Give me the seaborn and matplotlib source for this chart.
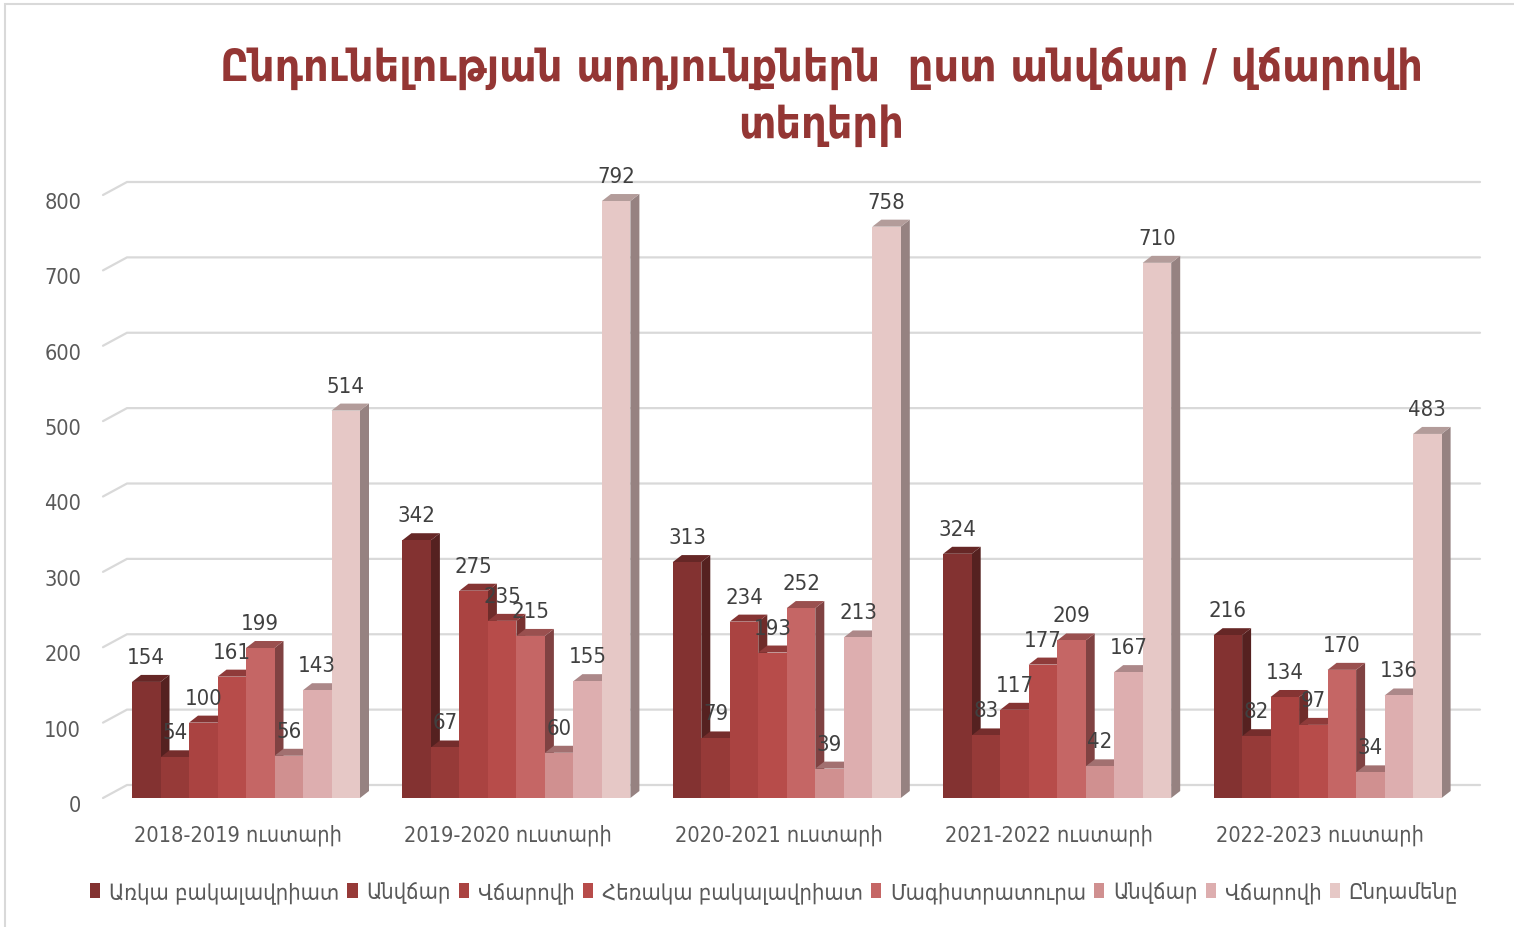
"""Admission results by free / paid places, 3D-look grouped bars."""

import matplotlib
matplotlib.use("Agg")
import matplotlib.pyplot as plt
import pandas as pd
import seaborn as sns
from matplotlib.colors import to_rgb
from matplotlib.patches import Patch, Polygon, Rectangle
from matplotlib.transforms import ScaledTranslation

years = [
    "2018-2019 ուստարի",
    "2019-2020 ուստարի",
    "2020-2021 ուստարի",
    "2021-2022 ուստարի",
    "2022-2023 ուստարի",
]
series_names = [
    "Առկա բակալավրիատ",
    "Անվճար",
    "Վճարովի",
    "Հեռակա բակալավրիատ",
    "Մագիստրատուրա",
    "Անվճար",
    "Վճարովի",
    "Ընդամենը",
]
full_time = [154, 342, 313, 324, 216]
full_time_free = [54, 67, 79, 83, 82]
full_time_paid = [100, 275, 234, 117, 134]
distance = [161, 235, 193, 177, 97]
masters = [199, 215, 252, 209, 170]
masters_free = [56, 60, 39, 42, 34]
masters_paid = [143, 155, 213, 167, 136]
total = [514, 792, 758, 710, 483]
all_series = [
    full_time, full_time_free, full_time_paid, distance,
    masters, masters_free, masters_paid, total,
]
colors = [
    "#833231", "#963A38", "#AA4341", "#B74C4A",
    "#C56665", "#D09090", "#DDAEAF", "#E6C8C6",
]
y_ticks = [0, 100, 200, 300, 400, 500, 600, 700, 800]
title = "Ընդունելության արդյունքներն  ըստ անվճար / վճարովի\nտեղերի"

W, H = 1514, 928
AX_LEFT, AX_WIDTH = 110.8, 1352
AX_BOTTOM, AX_HEIGHT = 799, 603
DEPTH_X, DEPTH_Y = 9, 7     # bar depth in pixels
WALL_X, WALL_Y = 24, 13     # back wall offset in pixels
TEXT_COLOR = "#595959"
GRID_COLOR = "#D9D9D9"


def shade(color, factor):
    return tuple(c * factor for c in to_rgb(color))


sns.set_theme(style="white")
plt.rcParams["font.family"] = ["DejaVu Sans"]
plt.rcParams["font.stretch"] = "condensed"

fig = plt.figure(figsize=(W / 100, H / 100), dpi=100)
ax = fig.add_axes([AX_LEFT / W, 1 - AX_BOTTOM / H, AX_WIDTH / W, AX_HEIGHT / H])

# outer chart frame, runs off the right and bottom of the image
fig.add_artist(Rectangle((5 / W, -0.05), 1.1, 1.05 - 5 / H, transform=fig.transFigure,
                         fill=False, edgecolor=GRID_COLOR, linewidth=1.5))

rows = []
for s, values in enumerate(all_series):
    for year, value in zip(years, values):
        rows.append({"year": year, "series": str(s), "value": value})
df = pd.DataFrame(rows)

sns.barplot(
    data=df, x="year", y="value", hue="series", order=years,
    hue_order=[str(s) for s in range(len(all_series))],
    palette=colors, width=228 / 270.4, gap=0, saturation=1,
    legend=False, ax=ax,
)
ax.set_xlim(-0.5, len(years) - 0.5)
ax.set_ylim(0, y_ticks[-1])
ax.set_xlabel("")
ax.set_ylabel("")
sns.despine(ax=ax, left=True, bottom=True)

px_x = len(years) / AX_WIDTH
px_y = y_ticks[-1] / AX_HEIGHT

# back wall gridlines with the short diagonal on the left
x_front = -0.5 + (103 - AX_LEFT) * px_x
x_back = x_front + WALL_X * px_x
x_end = -0.5 + (1480 - AX_LEFT) * px_x
for tick in y_ticks:
    y_back = tick + WALL_Y * px_y
    ax.plot([x_front, x_back, x_end], [tick, y_back, y_back], color=GRID_COLOR,
            linewidth=1.6, zorder=1, clip_on=False, solid_joinstyle="miter")

# extrude the seaborn bars: side and top faces come from each patch
bars = list(ax.patches)
n_years = len(years)
for s, color in enumerate(colors):
    for k in range(n_years):
        bar = bars[s * n_years + k]
        x0, x1 = bar.get_x(), bar.get_x() + bar.get_width()
        top = bar.get_height()
        dx, dy = DEPTH_X * px_x, DEPTH_Y * px_y
        base = 3 + s
        ax.add_patch(Polygon([(x1, 0), (x1 + dx, dy), (x1 + dx, top + dy), (x1, top)],
                             facecolor=shade(color, 0.65), edgecolor="none",
                             zorder=base, clip_on=False))
        ax.add_patch(Polygon([(x0, top), (x0 + dx, top + dy), (x1 + dx, top + dy), (x1, top)],
                             facecolor=shade(color, 0.78), edgecolor="none",
                             zorder=base + 0.1, clip_on=False))
        bar.set_zorder(base + 0.2)
        bar.set_edgecolor("none")
        ax.annotate(str(all_series[s][k]), ((x0 + x1) / 2, top), xytext=(0, 25 * 0.72),
                    textcoords="offset points", ha="center", va="center",
                    fontsize=15.8, color="#404040", zorder=20, annotation_clip=False)

ax.set_yticks(y_ticks)
ax.tick_params(axis="both", length=0, labelsize=15.6, labelcolor=TEXT_COLOR)
ax.tick_params(axis="y", pad=(AX_LEFT - 81) * 0.72)
ax.tick_params(axis="x", pad=18.5)
shift_y = ScaledTranslation(0, -5 / 100, fig.dpi_scale_trans)
shift_x = ScaledTranslation(-8 / 100, 0, fig.dpi_scale_trans)
for label in ax.get_yticklabels():
    label.set_transform(label.get_transform() + shift_y)
for label in ax.get_xticklabels():
    label.set_transform(label.get_transform() + shift_x)

handles = [Patch(facecolor=c, edgecolor="none") for c in colors]
fig.legend(handles, series_names, ncol=len(colors), loc="center",
           bbox_to_anchor=(774 / W, 1 - 893 / H), frameon=False, fontsize=15.8,
           labelcolor=TEXT_COLOR, handlelength=0.47, handleheight=0.65,
           handletextpad=0.4, columnspacing=0.37, borderpad=0)

fig.text(821 / W, 1 - 97 / H, title, ha="center", va="center", fontsize=32,
         fontweight="bold", color="#943634", linespacing=1.41)

fig.savefig("out.png", dpi=100)
plt.close(fig)
